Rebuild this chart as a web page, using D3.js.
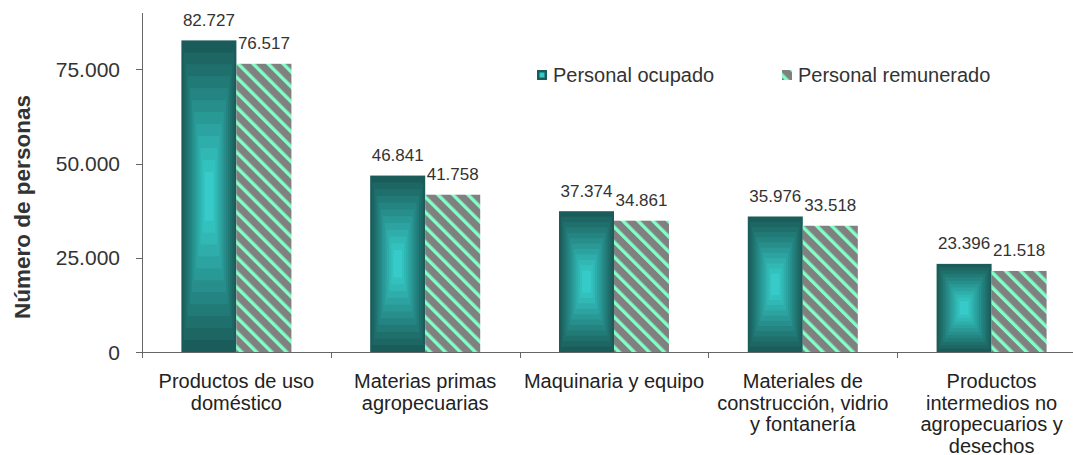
<!DOCTYPE html>
<html>
<head>
<meta charset="utf-8">
<script src="https://cdn.jsdelivr.net/npm/d3@7"></script>
<style>
  body { margin: 0; background: #fff; }
  svg { display: block; font-family: "Liberation Sans", Arial, sans-serif; }
</style>
</head>
<body>
<div id="chart"></div>
<script>
// data
let categories = [
    "Productos de uso doméstico",
    "Materias primas agropecuarias",
    "Maquinaria y equipo",
    "Materiales de construcción, vidrio y fontanería",
    "Productos intermedios no agropecuarios y desechos"
];
let categoryLines = [
    ["Productos de uso", "doméstico"],
    ["Materias primas", "agropecuarias"],
    ["Maquinaria y equipo"],
    ["Materiales de", "construcción, vidrio", "y fontanería"],
    ["Productos", "intermedios no", "agropecuarios y", "desechos"]
];
let seriesNames = ["Personal ocupado", "Personal remunerado"];
let ocupado = [82727, 46841, 37374, 35976, 23396];
let remunerado = [76517, 41758, 34861, 33518, 21518];
let yTicks = [0, 25000, 50000, 75000];
let yMax = 90000;

let w = 1073;
let h = 455;
let plotLeft = 142;
let plotBottom = 352;
let plotTop = 13;
let catWidth = 188.8;

let svg = d3.select("#chart")
    .append("svg")
    .attr("width", w)
    .attr("height", h);

let defs = svg.append("defs");

// diagonal hatch for "Personal remunerado"
let pat = defs.append("pattern")
    .attr("id", "hatch")
    .attr("patternUnits", "userSpaceOnUse")
    .attr("width", 10.6)
    .attr("height", 10.6)
    .attr("patternTransform", "rotate(-45)");
pat.append("rect").attr("width", 10.6).attr("height", 10.6).attr("fill", "#808080");
pat.append("rect").attr("x", 0).attr("width", 3.4).attr("height", 10.6).attr("fill", "#80ffc6");

let x0 = d3.scaleBand()
    .domain(categories)
    .range([plotLeft, plotLeft + catWidth * categories.length])
    .paddingInner(0)
    .paddingOuter(0);

let x1 = d3.scaleBand()
    .domain(seriesNames)
    .range([0, x0.bandwidth()])
    .paddingOuter(0.716)
    .paddingInner(0);

let y = d3.scaleLinear()
    .domain([0, yMax])
    .range([plotBottom, plotTop]);

let fmt = function (v) {
    return d3.format(",")(v).replace(/,/g, ".");
};

// concentric "rectangle" gradient, like the spreadsheet fill
let dark = d3.rgb("#1a5c59");
let light = d3.rgb("#36cbc8");
let steps = 12;
let shade = d3.interpolateRgb(dark, light);

let groups = svg.selectAll("g.cat")
    .data(categories)
    .enter()
    .append("g")
    .attr("class", "cat")
    .attr("transform", function (d) {
        return "translate(" + x0(d) + ",0)";
    });

groups.each(function (d, i) {
    let g = d3.select(this);
    let bx = x1(seriesNames[0]);
    let bw = x1.bandwidth();
    let by = y(ocupado[i]);
    let bh = plotBottom - by;
    for (let s = 0; s < steps; s++) {
        let f = s / steps * 0.92;
        g.append("rect")
            .attr("x", bx + f * bw / 2)
            .attr("y", by + f * bh / 2)
            .attr("width", bw * (1 - f))
            .attr("height", bh * (1 - f))
            .attr("fill", shade(s / (steps - 1)));
    }
    g.append("rect")
        .attr("x", x1(seriesNames[1]))
        .attr("y", y(remunerado[i]))
        .attr("width", x1.bandwidth())
        .attr("height", plotBottom - y(remunerado[i]))
        .attr("fill", "url(#hatch)");

    let vals = [ocupado[i], remunerado[i]];
    seriesNames.forEach(function (s, k) {
        g.append("text")
            .text(fmt(vals[k]))
            .attr("text-anchor", "middle")
            .attr("x", x1(s) + x1.bandwidth() / 2)
            .attr("y", y(vals[k]) - 14.5)
            .attr("font-size", "17px")
            .attr("fill", "#333");
    });

    let t = g.append("text")
        .attr("text-anchor", "middle")
        .attr("font-size", "20px")
        .attr("fill", "#222");
    categoryLines[i].forEach(function (line, k) {
        t.append("tspan")
            .attr("x", x0.bandwidth() / 2)
            .attr("y", 388 + k * 21.5)
            .text(line);
    });
});

// axes
let axisColor = "#666";
svg.append("line")
    .attr("x1", plotLeft + 0.5).attr("x2", plotLeft + 0.5)
    .attr("y1", plotTop).attr("y2", plotBottom)
    .attr("stroke", axisColor);
svg.append("line")
    .attr("x1", plotLeft - 6).attr("x2", w + 20)
    .attr("y1", plotBottom + 0.5).attr("y2", plotBottom + 0.5)
    .attr("stroke", axisColor);

svg.selectAll("line.ytick")
    .data(yTicks)
    .enter()
    .append("line")
    .attr("x1", plotLeft - 6).attr("x2", plotLeft)
    .attr("y1", function (d) { return Math.round(y(d)) + 0.5; })
    .attr("y2", function (d) { return Math.round(y(d)) + 0.5; })
    .attr("stroke", axisColor);

svg.selectAll("text.ylab")
    .data(yTicks)
    .enter()
    .append("text")
    .text(fmt)
    .attr("text-anchor", "end")
    .attr("x", plotLeft - 22)
    .attr("y", function (d) { return y(d) + 7.5; })
    .attr("font-size", "21px")
    .attr("fill", "#333");

let catEdges = categories.map(function (d) { return x0(d); });
catEdges.push(x0.range()[1]);
svg.selectAll("line.xtick")
    .data(catEdges)
    .enter()
    .append("line")
    .attr("x1", function (d) { return Math.round(d) + 0.5; })
    .attr("x2", function (d) { return Math.round(d) + 0.5; })
    .attr("y1", plotBottom)
    .attr("y2", plotBottom + 6)
    .attr("stroke", axisColor);

svg.append("text")
    .text("Número de personas")
    .attr("transform", "translate(30,207) rotate(-90)")
    .attr("text-anchor", "middle")
    .attr("font-size", "22.5px")
    .attr("font-weight", "bold")
    .attr("fill", "#333");

// legend
let legendX = [537, 782];
seriesNames.forEach(function (s, k) {
    if (k === 0) {
        svg.append("rect")
            .attr("x", legendX[k]).attr("y", 70)
            .attr("width", 10).attr("height", 10)
            .attr("fill", "#1a5c59");
        svg.append("rect")
            .attr("x", legendX[k] + 2.5).attr("y", 72.5)
            .attr("width", 5).attr("height", 5)
            .attr("fill", "#36cbc8");
    } else {
        svg.append("rect")
            .attr("x", legendX[k]).attr("y", 70)
            .attr("width", 10).attr("height", 10)
            .attr("fill", "url(#hatch)");
    }
    svg.append("text")
        .text(s)
        .attr("x", legendX[k] + 16)
        .attr("y", 81.5)
        .attr("font-size", "20px")
        .attr("fill", "#333");
});
</script>
</body>
</html>
